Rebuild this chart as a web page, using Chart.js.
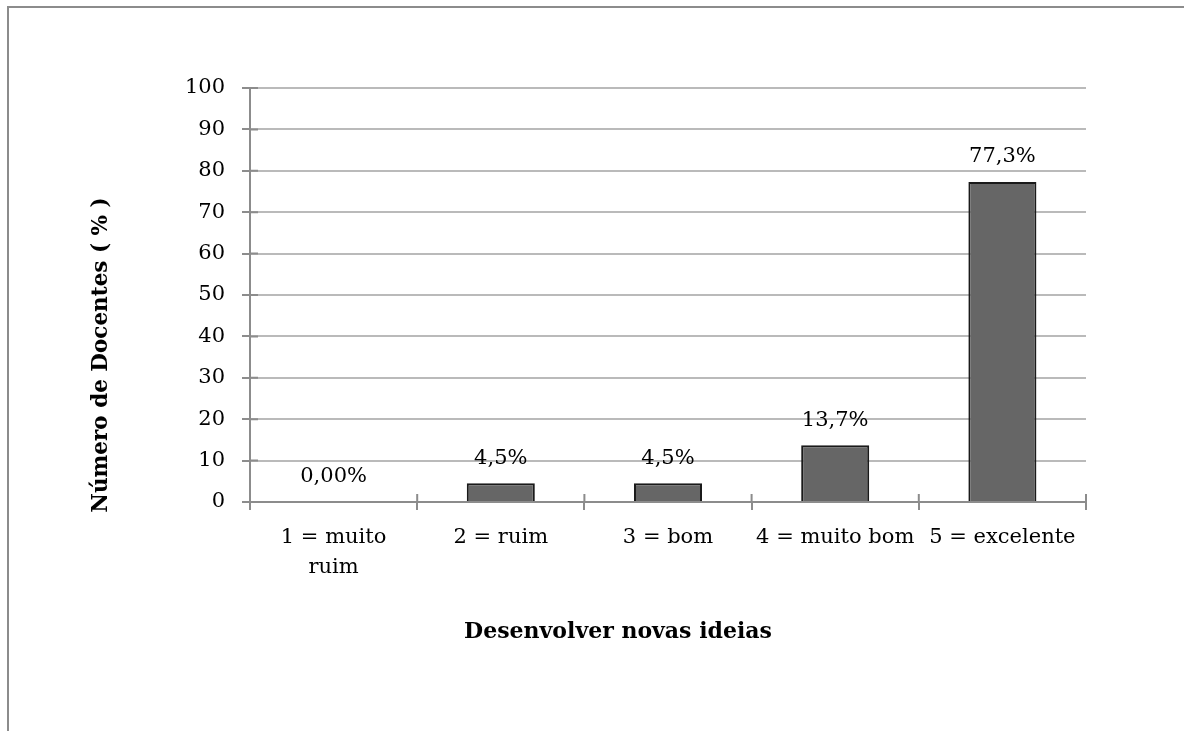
<!DOCTYPE html>
<html>
<head>
<meta charset="utf-8">
<script src="https://cdn.jsdelivr.net/npm/chart.js@4/dist/chart.umd.min.js"></script>
<style>
  html, body { margin: 0; padding: 0; background: #fff; overflow: hidden; }
  #wrap { position: relative; width: 1184px; height: 731px; }
  #frame {
    position: absolute; left: 7px; top: 6px; width: 1200px; height: 800px;
    border: 2px solid #8c8c8c;
  }
  canvas { position: absolute; left: 0; top: 0; }
</style>
</head>
<body>
<div id="wrap">
  <div id="frame"></div>
  <canvas id="chart" width="1184" height="731"></canvas>
</div>
<script>
const categories = [["1 = muito", "ruim"], "2 = ruim", "3 = bom", "4 = muito bom", "5 = excelente"];
const values = [0, 4.5, 4.5, 13.7, 77.3];
const valueLabels = ["0,00%", "4,5%", "4,5%", "13,7%", "77,3%"];
const yTitle = "Número de Docentes ( % )";
const xTitle = "Desenvolver novas ideias";

const FONT = "DejaVu Serif";
const AXIS_GRAY = "#8c8c8c";

// value labels above bars, both axis titles, and the short half of the cross ticks
const extras = {
  id: "extras",
  afterDatasetsDraw(chart) {
    const ctx = chart.ctx;
    const meta = chart.getDatasetMeta(0);
    ctx.save();
    ctx.font = `21px "${FONT}"`;
    ctx.fillStyle = "#000";
    ctx.textAlign = "center";
    ctx.textBaseline = "middle";
    meta.data.forEach((bar, i) => {
      ctx.fillText(valueLabels[i], bar.x, bar.y - 25);
    });
    ctx.restore();
  },
  afterDraw(chart) {
    const ctx = chart.ctx;
    const { left, bottom } = chart.chartArea;
    const x = chart.scales.x;
    const y = chart.scales.y;

    ctx.save();
    ctx.strokeStyle = AXIS_GRAY;
    ctx.lineWidth = 2;
    ctx.beginPath();
    for (let i = 0; i <= categories.length; i++) {
      const px = x.getPixelForValue(i - 0.5);
      ctx.moveTo(px, bottom - 8);
      ctx.lineTo(px, bottom);
    }
    y.ticks.forEach((t) => {
      const py = y.getPixelForValue(t.value);
      ctx.moveTo(left, py);
      ctx.lineTo(left + 8, py);
    });
    ctx.stroke();

    ctx.fillStyle = "#000";
    ctx.textAlign = "center";
    ctx.textBaseline = "middle";
    ctx.font = `bold 22px "${FONT}"`;
    ctx.fillText(xTitle, 618, 632);

    ctx.font = `bold 21.5px "${FONT}"`;
    ctx.translate(101, 355);
    ctx.rotate(-Math.PI / 2);
    ctx.fillText(yTitle, 0, 0);
    ctx.restore();
  },
};

new Chart(document.getElementById("chart"), {
  type: "bar",
  data: {
    labels: categories,
    datasets: [
      {
        data: values,
        backgroundColor: "#666666",
        borderColor: "#1a1a1a",
        borderWidth: 2,
        categoryPercentage: 1,
        barPercentage: 0.407,
      },
    ],
  },
  options: {
    responsive: false,
    animation: false,
    devicePixelRatio: 1,
    layout: { padding: { left: 89, top: 88, right: 98, bottom: 129 } },
    plugins: {
      legend: { display: false },
      tooltip: { enabled: false },
    },
    scales: {
      x: {
        afterFit: (scale) => { scale.height = 100; },
        grid: {
          offset: true,
          drawOnChartArea: false,
          color: AXIS_GRAY,
          lineWidth: 2,
          tickLength: 8,
        },
        border: { color: AXIS_GRAY, width: 2 },
        ticks: {
          color: "#000",
          padding: 13,
          maxRotation: 0,
          autoSkip: false,
          font: { family: FONT, size: 21, lineHeight: "30px" },
        },
      },
      y: {
        min: 0,
        max: 100,
        afterFit: (scale) => { scale.width = 161; },
        grid: {
          color: "#bababa",
          tickColor: AXIS_GRAY,
          lineWidth: 2,
          tickLength: 8,
        },
        border: { color: AXIS_GRAY, width: 2 },
        ticks: {
          stepSize: 10,
          color: "#000",
          padding: 17,
          font: { family: FONT, size: 21 },
        },
      },
    },
  },
  plugins: [extras],
});
</script>
</body>
</html>
